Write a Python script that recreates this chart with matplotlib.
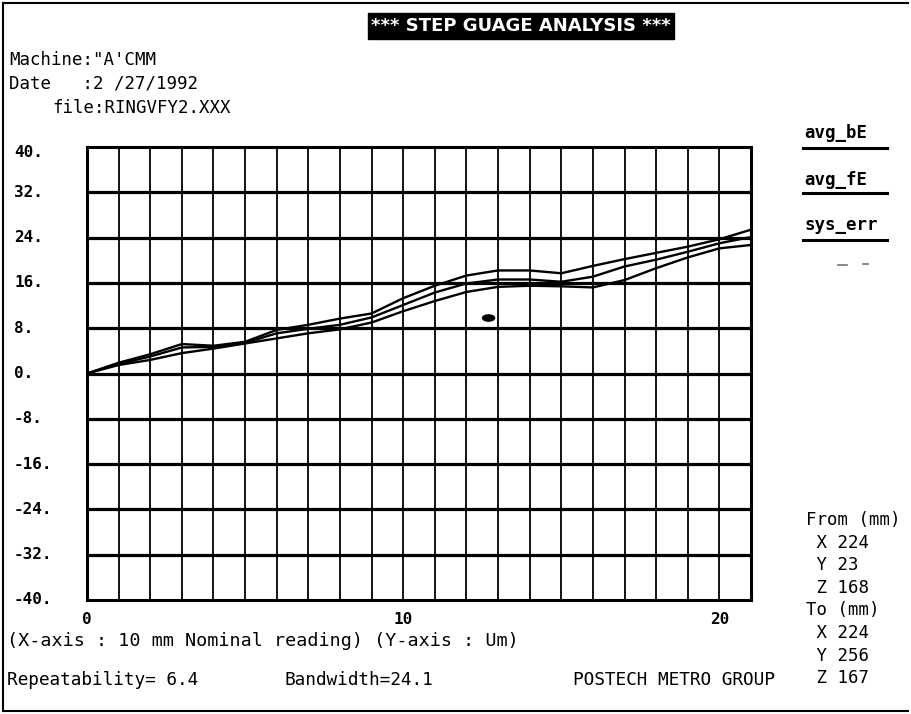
# step gauge analysis chart

import matplotlib
matplotlib.use("Agg")
import matplotlib.pyplot as plt
import matplotlib.transforms as mtransforms
from matplotlib.lines import Line2D
from matplotlib.patches import Ellipse

# data (x: nominal step, y: error in um)
x_steps = list(range(22))
avg_bE = [0, 1.9, 3.4, 5.2, 4.9, 5.6, 7.7, 8.6, 9.7, 10.6, 13.3, 15.5,
          17.3, 18.2, 18.2, 17.7, 19.0, 20.2, 21.3, 22.4, 23.7, 25.4]
sys_err = [0, 1.7, 3.0, 4.6, 4.7, 5.4, 7.1, 7.9, 8.6, 9.9, 12.1, 14.3,
           15.9, 16.6, 16.6, 16.2, 17.1, 18.9, 20.1, 21.5, 23.0, 24.1]
avg_fE = [0, 1.5, 2.4, 3.6, 4.4, 5.3, 6.2, 7.1, 7.8, 9.0, 11.0, 12.8,
          14.4, 15.3, 15.5, 15.4, 15.2, 16.5, 18.6, 20.5, 22.1, 22.7]

y_ticks = [40, 32, 24, 16, 8, 0, -8, -16, -24, -32, -40]
y_labels = ["40.", "32.", "24.", "16.", "8.", "0.", "-8.", "-16.", "-24.", "-32.", "-40."]
x_ticks = [0, 10, 20]
x_labels = ["0", "10", "20"]
legend_names = ["avg_bE", "avg_fE", "sys_err"]

blob_x = [12.7]
blob_y = [9.8]

from_to = ["From (mm)", " X 224", " Y 23", " Z 168", "To (mm)", " X 224", " Y 256", " Z 167"]

W, H = 911, 714


def fx(px):
    return px / W


def fy(py):
    return 1 - py / H


mono = "DejaVu Sans Mono"

fig = plt.figure(figsize=(W / 100, H / 100), dpi=100)
fig.patch.set_facecolor("white")

ax = fig.add_axes([fx(87), fy(600), (751 - 87) / W, (600 - 147) / H])
ax.set_xlim(0, 21)
ax.set_ylim(-40, 40)
ax.set_xticks([])
ax.set_yticks([])
for s in ax.spines.values():
    s.set_linewidth(2.2)

for v in range(1, 21):
    ax.axvline(v, color="black", lw=1.3)
for h in y_ticks[1:-1]:
    ax.axhline(h, color="black", lw=2.3)

ax.plot(x_steps, avg_bE, color="black", lw=1.7)
ax.plot(x_steps, sys_err, color="black", lw=1.7)
ax.plot(x_steps, avg_fE, color="black", lw=1.7)

for bx, by in zip(blob_x, blob_y):
    ax.add_patch(Ellipse((bx, by), 0.38, 1.1, color="black"))

# tick labels
ytr = mtransforms.blended_transform_factory(fig.transFigure, ax.transData)
for t, lab in zip(y_ticks, y_labels):
    yy = t - 1 if t == 40 else t
    fig.text(fx(14), yy, lab, transform=ytr, ha="left", va="center",
             family=mono, fontweight="bold", fontsize=11.5)

xtr = mtransforms.blended_transform_factory(ax.transData, fig.transFigure)
for t, lab in zip(x_ticks, x_labels):
    fig.text(t, fy(620), lab, transform=xtr, ha="center", va="center",
             family=mono, fontweight="bold", fontsize=11.5)

# title
fig.text(fx(521), fy(26), "*** STEP GUAGE ANALYSIS ***", ha="center", va="center",
         color="white", fontweight="bold", fontsize=13, family="DejaVu Sans",
         bbox=dict(facecolor="black", edgecolor="black", boxstyle="square,pad=0.2"))

# header info
fig.text(fx(9), fy(60), "Machine:\"A'CMM", ha="left", va="center", family=mono, fontsize=12.5)
fig.text(fx(9), fy(84), "Date   :2 /27/1992", ha="left", va="center", family=mono, fontsize=12.5)
fig.text(fx(52), fy(108), "file:RINGVFY2.XXX", ha="left", va="center", family=mono, fontsize=12.5)

# legend
leg_y = [133, 180, 225]
line_y = [148, 193, 240]
for name, ty, ly in zip(legend_names, leg_y, line_y):
    fig.text(fx(804), fy(ty), name, ha="left", va="center", family=mono,
             fontweight="bold", fontsize=12.5)
    fig.add_artist(Line2D([fx(803), fx(887)], [fy(ly), fy(ly)], color="black", lw=2.2))
# faint leftover marks under the legend
fig.add_artist(Line2D([fx(838), fx(847)], [fy(265), fy(265)], color="0.45", lw=1.2))
fig.add_artist(Line2D([fx(863), fx(868)], [fy(264), fy(264)], color="0.45", lw=1.2))

# from / to coordinates
for i, s in enumerate(from_to):
    fig.text(fx(806), fy(520 + i * 22.6), s, ha="left", va="center", family=mono,
             fontsize=12.5)

# bottom notes
fig.text(fx(7), fy(641), "(X-axis : 10 mm Nominal reading) (Y-axis : Um)", ha="left",
         va="center", family=mono, fontsize=13.2)
fig.text(fx(7), fy(680), "Repeatability= 6.4", ha="left", va="center", family=mono,
         fontsize=12.8)
fig.text(fx(285), fy(680), "Bandwidth=24.1", ha="left", va="center", family=mono,
         fontsize=12.8)
fig.text(fx(573), fy(680), "POSTECH METRO GROUP", ha="left", va="center", family=mono,
         fontsize=12.8)

# page frame (top, left, bottom)
fig.add_artist(Line2D([fx(3), fx(908)], [fy(3), fy(3)], color="black", lw=1.5))
fig.add_artist(Line2D([fx(3), fx(3)], [fy(3), fy(711)], color="black", lw=1.5))
fig.add_artist(Line2D([fx(3), fx(908)], [fy(711), fy(711)], color="black", lw=1.5))

plt.savefig("out.png", dpi=100)
